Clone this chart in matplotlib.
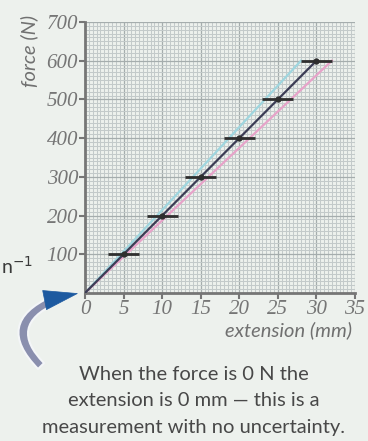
import matplotlib
matplotlib.use("Agg")
import matplotlib.pyplot as plt
import numpy as np
from matplotlib.patches import FancyArrowPatch

# data
extension = [5, 10, 15, 20, 25, 30]
force = [100, 200, 300, 400, 500, 600]
ext_err = [2, 2, 2, 2, 2, 2]
best_line_x = [0, 30]
best_line_y = [0, 600]
max_line_x = [0, 28]
max_line_y = [0, 600]
min_line_x = [0, 32]
min_line_y = [0, 600]
x_ticks = [0, 5, 10, 15, 20, 25, 30, 35]
y_ticks = [100, 200, 300, 400, 500, 600, 700]

BG = "#edf1ed"
W, H = 368, 441

fig = plt.figure(figsize=(W / 100, H / 100), dpi=100, facecolor=BG)
ax = fig.add_axes([85 / W, 1 - 293 / H, 270 / W, 271 / H])
ax.set_facecolor(BG)

ax.set_xlim(0, 35)
ax.set_ylim(0, 700)

# graph paper
for xv in np.arange(0.5, 35.01, 0.5):
    major = abs(xv % 5) < 1e-6
    ax.axvline(xv, color="#a5adad" if major else "#c3caca", lw=0.9 if major else 0.75, zorder=0)
for yv in np.arange(10, 700.1, 10):
    major = abs(yv % 100) < 1e-6
    ax.axhline(yv, color="#a5adad" if major else "#c3caca", lw=0.9 if major else 0.75, zorder=0)

ax.plot(max_line_x, max_line_y, color="#9fd6df", lw=1.6, zorder=2)
ax.plot(min_line_x, min_line_y, color="#e7a3c9", lw=1.6, zorder=2)
ax.plot(best_line_x, best_line_y, color="#3c3d55", lw=1.6, zorder=3)

ax.errorbar(extension, force, xerr=ext_err, fmt="o", color="#2e2e2e", ms=3.5,
            elinewidth=2, capsize=0, zorder=4)

for side in ["top", "right"]:
    ax.spines[side].set_visible(False)
for side in ["left", "bottom"]:
    ax.spines[side].set_color("#767676")
    ax.spines[side].set_linewidth(2)

ax.set_xticks(x_ticks)
ax.set_yticks(y_ticks)
tick_font = dict(family="Liberation Serif", style="italic", size=15, color="#8a8a8a")
ax.set_xticklabels([str(t) for t in x_ticks], **tick_font)
ax.set_yticklabels([str(t) for t in y_ticks], **tick_font)
ax.tick_params(axis="both", colors="#767676", length=4, width=1.5, pad=1)

label_font = dict(family="Lato", style="italic", size=14.5, color="#707070")
fig.text(29 / W, 1 - 51 / H, "force (N)", rotation=90, ha="center", va="center", **label_font)
fig.text(352 / W, 1 - 330 / H, "extension (mm)", ha="right", va="center", **label_font)

note_lines = ["When the force is 0 N the",
              "extension is 0 mm \u2014 this is a",
              "measurement with no uncertainty."]
for i, line in enumerate(note_lines):
    fig.text(194 / W, 1 - (375 + 26 * i) / H, line, ha="center", va="center",
             family="Lato", size=14.5, color="#484848")

# fragment of neighbouring text at the left edge
fig.text(1 / W, 1 - 266 / H, "n$^{-1}$", ha="left", va="center", family="Lato", size=14, color="#3a3a3a")

# curved arrow pointing to the origin
arrow = FancyArrowPatch((43 / W, 1 - 368 / H), (56 / W, 1 - 299 / H),
                        transform=fig.transFigure,
                        connectionstyle="arc3,rad=-0.75",
                        arrowstyle="simple,head_width=0.1,head_length=0.1,tail_width=6",
                        fc="#8a8fae", ec="#f4f6f8", lw=1.5, zorder=5)
fig.add_artist(arrow)
head = FancyArrowPatch((50 / W, 1 - 299 / H), (80 / W, 1 - 293 / H),
                       transform=fig.transFigure,
                       arrowstyle="simple,head_width=14,head_length=24,tail_width=0.1",
                       fc="#1d5aa0", ec="#1d5aa0", lw=0.5, zorder=6)
fig.add_artist(head)

fig.savefig("out.png", dpi=100, facecolor=BG)
